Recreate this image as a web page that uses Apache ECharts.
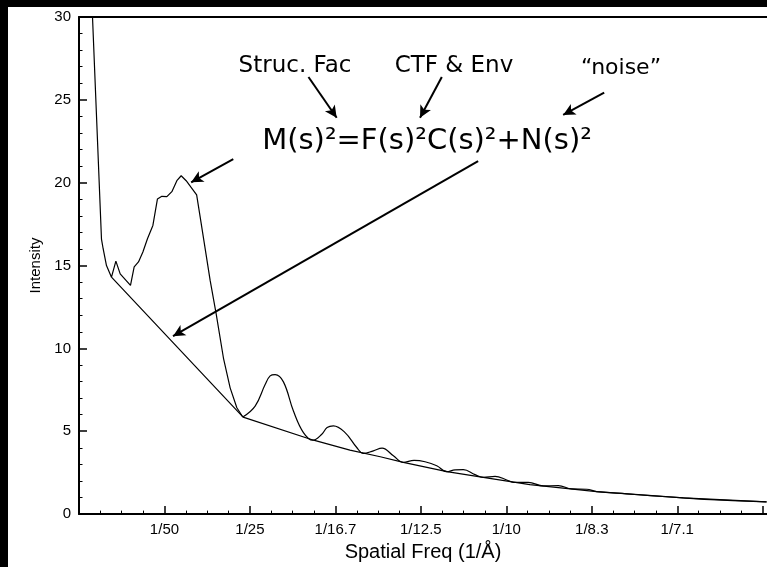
<!DOCTYPE html>
<html>
<head>
<meta charset="utf-8">
<script src="https://cdn.jsdelivr.net/npm/echarts@6/dist/echarts.min.js"></script>
<style>
  html, body { margin: 0; padding: 0; background: #000; width: 767px; height: 567px; overflow: hidden; }
  #chart { position: absolute; left: 8px; top: 7px; width: 759px; height: 560px; background: #fff; }
</style>
</head>
<body>
<div id="chart"></div>
<script>
// Measured spectrum M(s)^2, low-frequency part (spatial frequency in 1/Å, intensity)
const lowFreq = [0.00293, 0.00316, 0.00526, 0.00566, 0.00643, 0.0076, 0.00863, 0.00964, 0.01205,
  0.01291, 0.01392, 0.01495, 0.01602, 0.01729, 0.01836, 0.01939, 0.02056, 0.02173, 0.0229, 0.02391,
  0.02508, 0.02641, 0.02753, 0.02835, 0.02952, 0.03069, 0.0321, 0.0338, 0.03537, 0.03694, 0.03834];
const lowIntensity = [31.4, 30.0, 16.6, 16.0, 15.0, 14.3, 15.27, 14.5, 13.8,
  14.92, 15.22, 15.82, 16.62, 17.42, 19.02, 19.18, 19.16, 19.46, 20.12, 20.42,
  20.12, 19.66, 19.26, 17.94, 16.02, 14.1, 12.08, 9.42, 7.62, 6.42, 5.86];

// Measured spectrum M(s)^2, CTF ripple part
const rippleFreq = [0.03834, 0.04122, 0.04356, 0.04473, 0.0459, 0.04784, 0.05018, 0.05252, 0.05471,
  0.05682, 0.05806, 0.05953, 0.06227, 0.065, 0.06655, 0.06889, 0.07093, 0.07357, 0.07591, 0.07841,
  0.08098, 0.08372, 0.08606, 0.088, 0.08994, 0.09268, 0.09462, 0.09736, 0.1001, 0.10164, 0.10515,
  0.10866, 0.11216, 0.1153, 0.11881, 0.12115, 0.12817, 0.13362, 0.1414, 0.14922, 0.1609];
const rippleIntensity = [5.86, 6.52, 7.82, 8.34, 8.42, 7.98, 6.22, 4.92, 4.46,
  4.82, 5.22, 5.32, 4.92, 4.02, 3.66, 3.82, 3.98, 3.52, 3.12, 3.24,
  3.16, 2.92, 2.56, 2.67, 2.68, 2.38, 2.22, 2.28, 2.06, 1.92, 1.92,
  1.7, 1.72, 1.52, 1.5, 1.36, 1.22, 1.12, 0.98, 0.86, 0.74];

// Fitted noise background N(s)^2
const noiseFreq = [0.0076, 0.0384, 0.0549, 0.0634, 0.0705, 0.0759, 0.0861, 0.0946, 0.1055, 0.1211, 0.1414, 0.1609];
const noiseIntensity = [14.3, 5.85, 4.46, 3.86, 3.46, 3.12, 2.56, 2.22, 1.78, 1.36, 0.98, 0.74];

// Axis tick labels
const xTickValues = [0.02, 0.04, 0.06, 0.08, 0.10, 0.12, 0.14, 0.16];
const xTickLabels = ['1/50', '1/25', '1/16.7', '1/12.5', '1/10', '1/8.3', '1/7.1', ''];

// Annotation arrows: [fromFreq, fromIntensity, toFreq, toIntensity]
const arrowStructFac = [0.0537, 26.38, 0.0603, 23.92];
const arrowCtfEnv = [0.0849, 26.38, 0.0798, 23.92];
const arrowNoise = [0.1229, 25.44, 0.1133, 24.09];
const arrowSpectrum = [0.0361, 21.42, 0.02625, 20.02];
const arrowBackground = [0.0934, 21.30, 0.0220, 10.74];

const zip = (xs, ys) => xs.map((x, i) => [x, ys[i]]);
const arrow = a => [{ coord: [a[0], a[1]], symbol: 'none' }, { coord: [a[2], a[3]], symbol: 'arrow' }];

const chart = echarts.init(document.getElementById('chart'), null, { renderer: 'canvas' });
const annFont = '"DejaVu Sans", sans-serif';
const axFont = '"Liberation Sans", Arial, sans-serif';
chart.setOption({
  animation: false,
  backgroundColor: '#fff',
  grid: { left: 71, right: 0, top: 10, bottom: 50, containLabel: false },
  xAxis: [{
    type: 'value', min: 0, max: 0.161, interval: 0.02,
    name: 'Spatial Freq (1/Å)', nameLocation: 'middle', nameGap: 26,
    nameTextStyle: { fontFamily: axFont, fontSize: 20, color: '#000' },
    axisLine: { show: true, onZero: false, lineStyle: { color: '#000', width: 2 } },
    axisTick: { show: true, inside: true, length: 8, customValues: xTickValues, lineStyle: { color: '#000', width: 1.5 } },
    minorTick: { show: true, splitNumber: 4, length: 3.5, lineStyle: { color: '#000', width: 1 } },
    splitLine: { show: false },
    axisLabel: {
      margin: 8, fontFamily: axFont, fontSize: 15, color: '#000',
      showMinLabel: false, showMaxLabel: false,
      formatter: v => {
        const i = xTickValues.findIndex(t => Math.abs(t - v) < 1e-6);
        return i >= 0 ? xTickLabels[i] : '';
      }
    }
  }, {
    type: 'value', position: 'top', min: 0, max: 0.161,
    axisLine: { show: true, onZero: false, lineStyle: { color: '#000', width: 2 } },
    axisTick: { show: false }, axisLabel: { show: false }, splitLine: { show: false }
  }],
  yAxis: {
    type: 'value', min: 0, max: 30, interval: 5,
    name: 'Intensity', nameLocation: 'middle', nameGap: 30,
    nameTextStyle: { fontFamily: axFont, fontSize: 15, color: '#000' },
    axisLine: { show: true, onZero: false, lineStyle: { color: '#000', width: 2 } },
    axisTick: { show: true, inside: true, length: 8, lineStyle: { color: '#000', width: 1.5 } },
    minorTick: { show: true, splitNumber: 5, length: 3.5, lineStyle: { color: '#000', width: 1 } },
    splitLine: { show: false },
    axisLabel: { margin: 8, fontFamily: axFont, fontSize: 15, color: '#000' }
  },
  series: [{
    type: 'line', data: zip(lowFreq, lowIntensity), showSymbol: false, clip: true,
    lineStyle: { color: '#000', width: 1.2 }, silent: true
  }, {
    type: 'line', data: zip(rippleFreq, rippleIntensity), showSymbol: false, smooth: 0.4, clip: true,
    lineStyle: { color: '#000', width: 1.2 }, silent: true
  }, {
    type: 'line', data: zip(noiseFreq, noiseIntensity), showSymbol: false, clip: true,
    lineStyle: { color: '#000', width: 1.2 }, silent: true,
    markLine: {
      silent: true, symbolSize: [9, 12], animation: false,
      label: { show: false },
      lineStyle: { color: '#000', width: 2, type: 'solid' },
      data: [arrow(arrowStructFac), arrow(arrowCtfEnv), arrow(arrowNoise), arrow(arrowSpectrum), arrow(arrowBackground)]
    }
  }],
  graphic: [
    { type: 'text', x: 287, y: 59, style: { text: 'Struc. Fac', font: '23px ' + annFont, fill: '#000', textAlign: 'center', textVerticalAlign: 'middle' } },
    { type: 'text', x: 446, y: 59, style: { text: 'CTF & Env', font: '23px ' + annFont, fill: '#000', textAlign: 'center', textVerticalAlign: 'middle' } },
    { type: 'text', x: 613, y: 61, style: { text: '“noise”', font: '22px ' + annFont, fill: '#000', textAlign: 'center', textVerticalAlign: 'middle' } },
    { type: 'text', x: 419, y: 134, style: { text: 'M(s)²=F(s)²C(s)²+N(s)²', font: '29px ' + annFont, fill: '#000', textAlign: 'center', textVerticalAlign: 'middle' } }
  ]
});
</script>
</body>
</html>
